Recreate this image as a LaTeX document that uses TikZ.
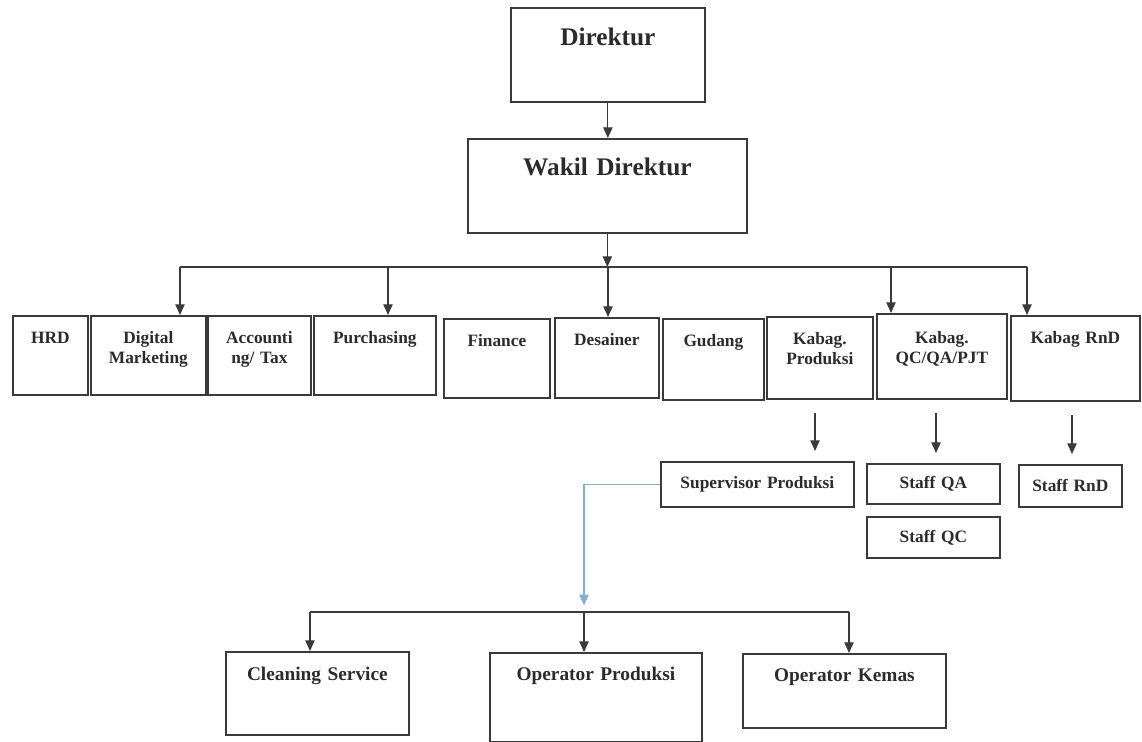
\documentclass[tikz,border=0pt]{standalone}
\usepackage{fontspec}
\setmainfont{Liberation Serif}
\usetikzlibrary{arrows.meta}
\definecolor{trait}{HTML}{3A3A3A}
\definecolor{texte}{HTML}{2B2B2B}
\definecolor{bleu}{HTML}{7FB0D6}
\begin{document}
\begin{tikzpicture}[x=0.75pt,y=-0.75pt]
	\tikzstyle{boite}=[draw=trait,line width=1.3pt,anchor=north west,inner sep=0pt,align=center,text=texte,font=\bfseries\fontsize{13}{14.5}\selectfont]
	\tikzstyle{grande}=[boite,font=\bfseries\fontsize{19}{22}\selectfont]
	\tikzstyle{basse}=[boite,font=\bfseries\fontsize{14.5}{16}\selectfont]
	\tikzstyle{ligne}=[trait,line width=0.9pt]
	\tikzstyle{fleche}=[ligne,-{Triangle[length=8pt,width=7pt]}]
	
	\def\Barre{267}
	\def\BarreBas{612}
	\def\HautRang{315}
	
	\useasboundingbox (0,0) rectangle (1142,742);
	
	% direction
	\node[grande,text width=145.5pt,text height=28.5pt,text depth=42pt] (dir) at (510,7) {Direktur};
	\node[grande,text width=209.25pt,text height=27.75pt,text depth=42.75pt] (wakil) at (467,138) {Wakil Direktur};
	
	% rang des services
	\node[boite,text width=56.25pt,text height=21pt,text depth=38.25pt] (hrd) at (12,\HautRang) {HRD};
	\node[boite,text width=86.25pt,text height=21pt,text depth=38.25pt] (digital) at (90,\HautRang) {Digital\\Marketing};
	\node[boite,text width=77.25pt,text height=21pt,text depth=38.25pt] (acc) at (207,\HautRang) {Accounti\\ng/ Tax};
	\node[boite,text width=91.5pt,text height=21pt,text depth=38.25pt] (purch) at (313,\HautRang) {Purchasing};
	\node[boite,text width=79.5pt,text height=21pt,text depth=38.25pt] (fin) at (443,318) {Finance};
	\node[boite,text width=78pt,text height=21pt,text depth=39pt] (des) at (554,317) {Desainer};
	\node[boite,text width=75.75pt,text height=21pt,text depth=39.75pt] (gud) at (662,318) {Gudang};
	\node[boite,text width=79.5pt,text height=21pt,text depth=40.5pt] (kprod) at (766,316) {Kabag.\\Produksi};
	\node[boite,text width=97.5pt,text height=22.5pt,text depth=41.25pt] (kqc) at (876,313) {Kabag.\\QC/QA/PJT};
	\node[boite,text width=96.75pt,text height=21pt,text depth=42.75pt] (krnd) at (1010,\HautRang) {Kabag RnD};
	
	% staff
	\node[boite,text width=144.75pt,minimum height=33.75pt] (sup) at (660,461) {Supervisor Produksi};
	\node[boite,text width=99.75pt,minimum height=30pt] (sqa) at (866,463) {Staff QA};
	\node[boite,text width=99.75pt,minimum height=30.75pt] (sqc) at (866,516) {Staff QC};
	\node[boite,text width=77.25pt,minimum height=31.5pt] (srnd) at (1018,464) {Staff RnD};
	
	% production
	\node[basse,text width=137.25pt,text height=21.75pt,text depth=40.5pt] (clean) at (225,651) {Cleaning Service};
	\node[basse,text width=159pt,text height=21pt,text depth=45.75pt] (oprod) at (489,652) {Operator Produksi};
	\node[basse,text width=152.25pt,text height=21pt,text depth=34.5pt] (okem) at (742,653) {Operator Kemas};
	
	% liaisons
	\draw[fleche] (dir.south) -- (dir.south |- wakil.north);
	\coordinate (bA) at (wakil.south |- 0,\Barre);
	\coordinate (bG) at (180,\Barre);
	\coordinate (bD) at (1027,\Barre);
	\draw[fleche] (wakil.south) -- (bA);
	\draw[ligne] (bG) -- (bD);
	\foreach \x/\n in {180/digital,388/purch,608/des,891/kqc,1027/krnd}
		\draw[fleche] (\x,\Barre) -- (\x,\Barre |- \n.north);
	
	\foreach \x/\h/\b in {815/kprod/sup,936/kqc/sqa,1072/krnd/srnd}
		\draw[fleche,shorten <=10pt,shorten >=7.5pt] (\x,0 |- \h.south) -- (\x,0 |- \b.north);
	
	\coordinate (cB) at (584,\BarreBas);
	\coordinate (cG) at (310,\BarreBas);
	\coordinate (cD) at (849,\BarreBas);
	\draw[fleche,bleu,shorten >=5pt] (sup.west) -| (cB);
	\draw[ligne] (cG) -- (cD);
	\foreach \x/\n in {310/clean,584/oprod,849/okem}
		\draw[fleche] (\x,\BarreBas) -- (\x,\BarreBas |- \n.north);
\end{tikzpicture}
\end{document}
